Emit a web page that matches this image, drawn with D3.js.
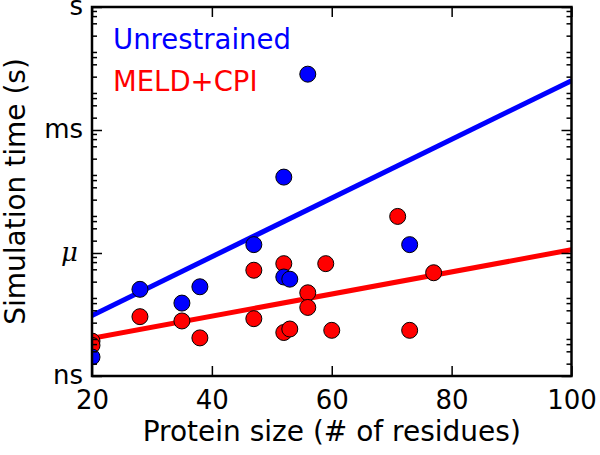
<!DOCTYPE html>
<html>
<head>
<meta charset="utf-8">
<script src="https://cdn.jsdelivr.net/npm/d3@7"></script>
<style>
  body { margin: 0; background: #fff; }
  text { font-family: "DejaVu Sans", sans-serif; }
</style>
</head>
<body>
<div id="chart"></div>
<script>
// Values (time in seconds)
var unrestrainedSize = [20, 28, 35, 38, 47, 52, 53, 52, 56, 73];
var unrestrainedTime = [2.9e-9, 1.3e-7, 6.0e-8, 1.5e-7, 1.6e-6, 2.6e-7, 2.3e-7, 7.1e-5, 2.3e-2, 1.6e-6];

var meldSize = [20, 20, 28, 35, 38, 47, 47, 52, 52, 53, 56, 56, 59, 60, 71, 73, 77];
var meldTime = [7.1e-9, 5.6e-9, 2.8e-8, 2.2e-8, 8.5e-9, 3.8e-7, 2.5e-8, 5.5e-7, 1.15e-8, 1.4e-8,
                1.07e-7, 4.7e-8, 5.5e-7, 1.3e-8, 7.8e-6, 1.3e-8, 3.3e-7];

// fitted trend lines (end points)
var fitSize = [20, 100];
var unrestrainedFit = [3.0e-8, 1.6e-2];
var meldFit = [8.3e-9, 1.2e-6];

var xTicks = [20, 40, 60, 80, 100];
var yTicks = [1e-9, 1e-6, 1e-3, 1];
var yTickLabels = ["ns", "\u03bc", "ms", "s"];
var minorSubs = [2, 4, 6, 8];

var svgWidth = 600;
var svgHeight = 455;
var margin = { top: 7, right: 28.5, bottom: 79, left: 92 };
var width = svgWidth - margin.left - margin.right;
var height = svgHeight - margin.top - margin.bottom;

var svg = d3.select("#chart")
  .append("svg")
  .attr("width", svgWidth)
  .attr("height", svgHeight);

var chartGroup = svg.append("g")
  .attr("transform", `translate(${margin.left}, ${margin.top})`);

var xScale = d3.scaleLinear().domain([20, 100]).range([0, width]);
var yScale = d3.scaleLog().domain([1e-9, 1]).range([height, 0]);

// minor ticks at 2,4,6,8 x each decade
var minorTicks = [];
for (var k = -9; k < 0; k++) {
  minorSubs.forEach(m => minorTicks.push(m * Math.pow(10, k)));
}

chartGroup.append("clipPath").attr("id", "clip")
  .append("rect").attr("width", width).attr("height", height);

var plot = chartGroup.append("g").attr("clip-path", "url(#clip)");

// trend lines
var line = d3.line()
  .x(d => xScale(d[0]))
  .y(d => yScale(d[1]));

plot.append("path")
  .datum(fitSize.map((s, i) => [s, meldFit[i]]))
  .attr("d", line)
  .attr("fill", "none")
  .attr("stroke", "#ff0000")
  .attr("stroke-width", 5);

plot.append("path")
  .datum(fitSize.map((s, i) => [s, unrestrainedFit[i]]))
  .attr("d", line)
  .attr("fill", "none")
  .attr("stroke", "#0000ff")
  .attr("stroke-width", 5);

// scatter points
plot.append("g")
  .selectAll("circle")
  .data(meldSize.map((s, i) => [s, meldTime[i]]))
  .enter()
  .append("circle")
  .attr("cx", d => xScale(d[0]))
  .attr("cy", d => yScale(d[1]))
  .attr("r", 8)
  .attr("fill", "#ff0000")
  .attr("stroke", "#000")
  .attr("stroke-width", 1);

plot.append("g")
  .selectAll("circle")
  .data(unrestrainedSize.map((s, i) => [s, unrestrainedTime[i]]))
  .enter()
  .append("circle")
  .attr("cx", d => xScale(d[0]))
  .attr("cy", d => yScale(d[1]))
  .attr("r", 8)
  .attr("fill", "#0000ff")
  .attr("stroke", "#000")
  .attr("stroke-width", 1);

// axes (ticks pointing inward)
function styleAxis(g) {
  g.select(".domain").remove();
  g.selectAll(".tick line").attr("stroke", "#000").attr("stroke-width", 1.5);
  g.selectAll(".tick text").attr("fill", "#000").style("font-size", "26px");
}

chartGroup.append("g")
  .attr("transform", `translate(0, ${height})`)
  .call(d3.axisBottom(xScale).tickValues(xTicks).tickSize(-10).tickPadding(8).tickFormat(d3.format("d")))
  .call(styleAxis)
  .selectAll(".tick text").attr("dy", "0.95em");

chartGroup.append("g")
  .call(d3.axisTop(xScale).tickValues(xTicks).tickSize(-10).tickFormat(""))
  .call(styleAxis);

var leftAxis = chartGroup.append("g")
  .call(d3.axisLeft(yScale).tickValues(yTicks).tickSize(-10).tickPadding(9)
    .tickFormat((d, i) => yTickLabels[i]))
  .call(styleAxis);
leftAxis.selectAll(".tick text").attr("dy", "0.3em");
leftAxis.selectAll(".tick text")
  .filter((d, i) => i === 1)
  .style("font-style", "italic")
  .style("font-family", "'DejaVu Serif', serif")
  .attr("dx", -5);

chartGroup.append("g")
  .call(d3.axisLeft(yScale).tickValues(minorTicks).tickSize(-5).tickFormat(""))
  .call(styleAxis);

chartGroup.append("g")
  .attr("transform", `translate(${width}, 0)`)
  .call(d3.axisRight(yScale).tickValues(yTicks).tickSize(-10).tickFormat(""))
  .call(styleAxis);

chartGroup.append("g")
  .attr("transform", `translate(${width}, 0)`)
  .call(d3.axisRight(yScale).tickValues(minorTicks).tickSize(-5).tickFormat(""))
  .call(styleAxis);

// frame
chartGroup.append("rect")
  .attr("width", width)
  .attr("height", height)
  .attr("fill", "none")
  .attr("stroke", "#000")
  .attr("stroke-width", 2.5);

// legend text
chartGroup.append("text")
  .attr("x", 21)
  .attr("y", 42)
  .attr("fill", "#0000ff")
  .style("font-size", "27.5px")
  .text("Unrestrained");

chartGroup.append("text")
  .attr("x", 21)
  .attr("y", 84)
  .attr("fill", "#ff0000")
  .style("font-size", "27.5px")
  .text("MELD+CPI");

// axis labels
svg.append("text")
  .attr("transform", `translate(${margin.left + width / 2}, 441)`)
  .attr("text-anchor", "middle")
  .style("font-size", "28px")
  .text("Protein size (# of residues)");

svg.append("text")
  .attr("transform", `translate(25, ${margin.top + height / 2}) rotate(-90)`)
  .attr("text-anchor", "middle")
  .style("font-size", "28px")
  .text("Simulation time (s)");
</script>
</body>
</html>
